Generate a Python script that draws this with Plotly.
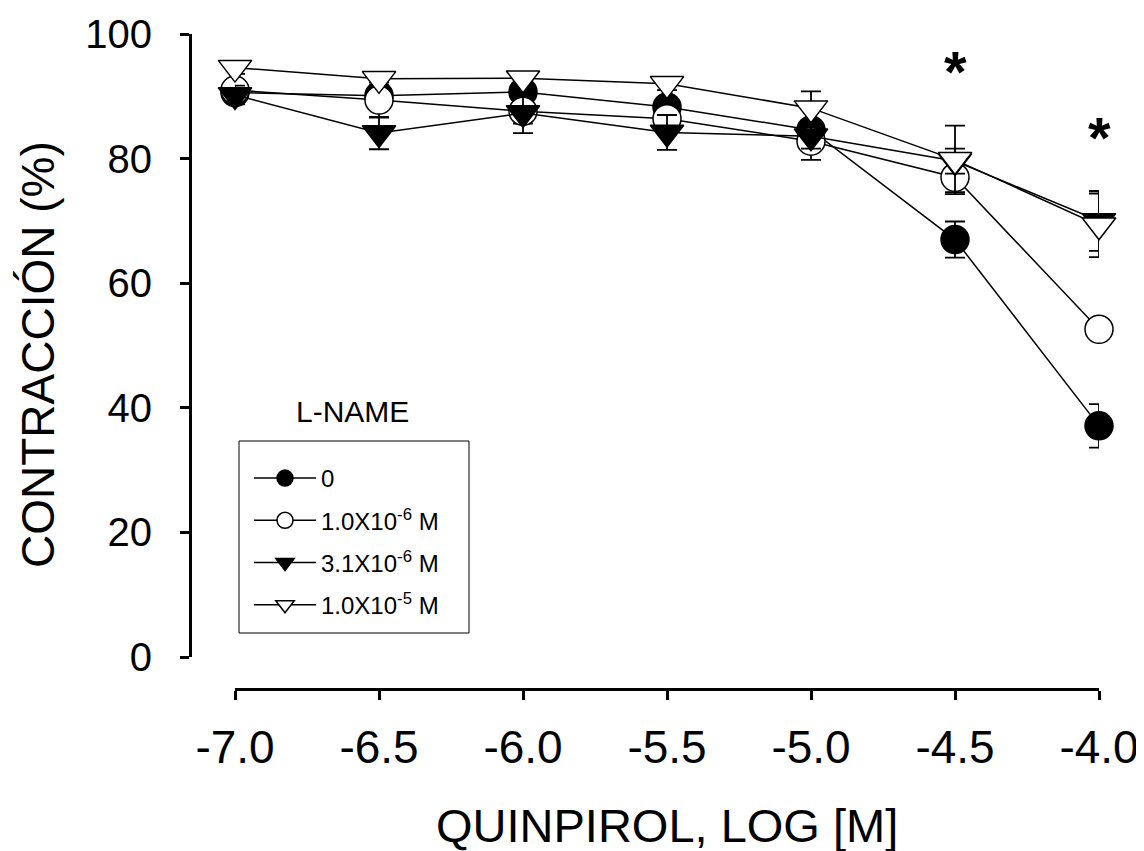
import plotly.graph_objects as go

# ---- data ----
log_quinpirol = [-7.0, -6.5, -6.0, -5.5, -5.0, -4.5, -4.0]
x_tick_labels = ["-7.0", "-6.5", "-6.0", "-5.5", "-5.0", "-4.5", "-4.0"]

series_names = ["0", "1.0X10<sup>-6</sup> M", "3.1X10<sup>-6</sup> M", "1.0X10<sup>-5</sup> M"]

lname_0 = [90.6, 90.1, 90.7, 88.3, 84.6, 67.0, 37.1]
lname_0_err = [1.2, 1.5, 1.5, 1.5, 1.5, 2.9, 3.5]

lname_1e6 = [91.0, 89.4, 87.6, 86.4, 82.8, 77.0, 52.6]
lname_1e6_err = [1.5, 2.8, 2.0, 1.5, 3.0, 2.4, 1.5]

lname_31e6 = [90.2, 84.1, 87.3, 84.2, 83.6, 79.6, 70.0]
lname_31e6_err = [1.5, 2.6, 3.2, 2.8, 2.0, 2.0, 4.8]

lname_1e5 = [94.6, 92.8, 92.9, 92.0, 88.1, 79.8, 69.3]
lname_1e5_err = [1.0, 1.0, 1.0, 1.0, 2.7, 5.5, 5.1]

y_ticks = [0, 20, 40, 60, 80, 100]

# significance marks
star_x = [-4.5, -4.0]
star_y = [94.9, 84.3]

# ---- styling ----
FONT = "Arial, Liberation Sans, Helvetica, sans-serif"
OFF = 8                      # default page margin of the html body
W, H = 1144 - OFF, 851 - OFF


def fx(px):
    return (px - OFF) / W


def fy(py):
    return (H - (py - OFF)) / H


styles = [
    dict(symbol="circle", color="black", size=28),
    dict(symbol="circle", color="white", size=28),
    dict(symbol="triangle-down", color="black", size=29),
    dict(symbol="triangle-down", color="white", size=29),
]
values = [lname_0, lname_1e6, lname_31e6, lname_1e5]
errors = [lname_0_err, lname_1e6_err, lname_31e6_err, lname_1e5_err]

fig = go.Figure()
for i, (name, vals, errs, st) in enumerate(zip(series_names, values, errors, styles)):
    fig.add_trace(go.Scatter(
        x=log_quinpirol, y=vals, name=name, mode="lines+markers",
        legendgroup=f"g{i}",
        line=dict(color="black", width=1.5),
        marker=dict(symbol=st["symbol"], size=st["size"], color=st["color"],
                    line=dict(color="black", width=1.5)),
        error_y=dict(type="data", array=errs, symmetric=True, color="black",
                     thickness=1.8, width=10),
        cliponaxis=False,
    ))

for sx, sy in zip(star_x, star_y):
    fig.add_annotation(x=sx, y=sy, xref="x", yref="y", text="<b>*</b>",
                       showarrow=False, font=dict(family=FONT, size=58, color="black"),
                       xanchor="center", yanchor="middle", yshift=-6)

# axis titles
fig.add_annotation(x=fx(667), y=fy(825), xref="paper", yref="paper",
                   text="QUINPIROL, LOG [M]", showarrow=False,
                   font=dict(family=FONT, size=47, color="black"),
                   xanchor="center", yanchor="middle")
fig.add_annotation(x=fx(38), y=fy(355), xref="paper", yref="paper",
                   text="CONTRACCIÓN (%)", showarrow=False, textangle=-90,
                   font=dict(family=FONT, size=46, color="black"),
                   xanchor="center", yanchor="middle")
# legend heading
fig.add_annotation(x=fx(352), y=fy(411), xref="paper", yref="paper",
                   text="L-NAME", showarrow=False,
                   font=dict(family=FONT, size=30, color="black"),
                   xanchor="center", yanchor="middle")

# legend frame
fig.add_shape(type="rect", xref="paper", yref="paper",
              x0=fx(239), x1=fx(469), y0=fy(633), y1=fy(441),
              line=dict(color="black", width=1), fillcolor="rgba(0,0,0,0)")

fig.update_layout(
    width=W, height=H,
    margin=dict(l=0, r=0, t=0, b=0, pad=0, autoexpand=False),
    paper_bgcolor="white", plot_bgcolor="white",
    font=dict(family=FONT, color="black"),
    showlegend=True,
    legend=dict(
        x=fx(249), y=fy(456), xanchor="left", yanchor="top",
        borderwidth=0, bgcolor="rgba(0,0,0,0)",
        font=dict(family=FONT, size=24, color="black"),
        itemwidth=62, tracegroupgap=8, traceorder="grouped",
    ),
    xaxis=dict(
        domain=[fx(235), fx(1099)], range=[-7.0, -4.0],
        anchor="free", position=fy(689), automargin=False,
        tickmode="array", tickvals=log_quinpirol, ticktext=x_tick_labels,
        showline=True, linecolor="black", linewidth=3,
        ticks="outside", ticklen=9, tickwidth=3, tickcolor="black",
        ticklabelstandoff=8,
        tickfont=dict(family=FONT, size=46, color="black"),
        showgrid=False, zeroline=False,
    ),
    yaxis=dict(
        domain=[fy(657), fy(34)], range=[0, 100],
        anchor="free", position=fx(190), automargin=False,
        tickmode="array", tickvals=y_ticks,
        showline=True, linecolor="black", linewidth=3,
        ticks="outside", ticklen=9, tickwidth=3, tickcolor="black",
        ticklabelstandoff=20,
        tickfont=dict(family=FONT, size=40, color="black"),
        showgrid=False, zeroline=False,
    ),
)

fig.write_html("out.html")
